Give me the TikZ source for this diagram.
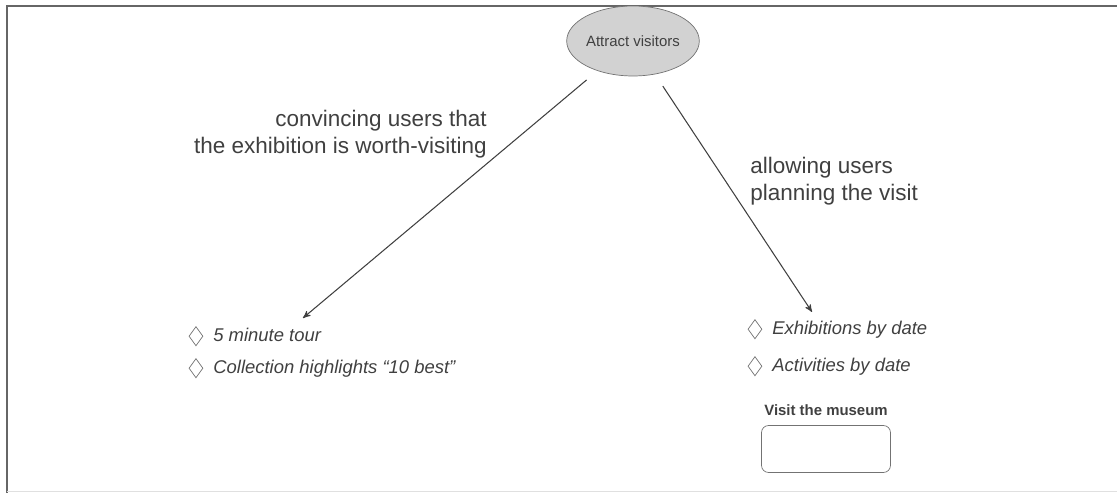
\documentclass[tikz,border=0pt]{standalone}
\usepackage{fontspec}
\setmainfont{Liberation Sans}
\usetikzlibrary{
  arrows,
  shapes.geometric,
  positioning
}
\definecolor{inkgrey}{HTML}{404040}
\definecolor{goalgrey}{HTML}{D2D2D2}

\begin{document}
\begin{tikzpicture}[
      x=0.02cm, y=-0.02cm,
      goal/.style={
         ellipse,
         minimum width=2.6cm,
         minimum height=1.4cm,
         inner sep=0pt,
         draw=black!55,
         fill=goalgrey,
         text=inkgrey,
         font=\fontsize{8.5}{10}\selectfont
      },
      reason/.style={
         inner sep=0pt,
         text=inkgrey,
         font=\fontsize{12.8}{15.3}\selectfont
      },
      item/.style={
         inner sep=0pt,
         anchor=base west,
         text=inkgrey,
         font=\fontsize{10.5}{12}\selectfont\itshape,
         text height=1.5ex,
         text depth=.25ex
      },
      bullet/.style={
         diamond,
         draw=black!55,
         thin,
         inner sep=0pt,
         minimum width=8pt,
         minimum height=11pt
      },
      frame/.style={draw=black!60, line width=1.2pt},
      >=stealth',
      tip/.style={->, line width=0.6pt, draw=inkgrey, shorten <=8pt}
    ]
    \useasboundingbox (0,0) rectangle (1117,493);
    % frame
    \draw[frame] (7,493) -- (7,6) -- (1117,6);
    \draw[black!12] (7,491) -- (1117,491);
    % goal and reasons
    \node (goal) [goal] at (633,41) {Attract visitors};
    \node (whyleft) [reason, align=right, anchor=north east] at (487,110)
       {convincing users that\\the exhibition is worth-visiting};
    \node (whyright) [reason, align=left, anchor=north west] at (750,157)
       {allowing users\\planning the visit};
    % items
    \node (tour) [item] at (213,342) {5 minute tour};
    \node (best) [item] at (213,374) {Collection highlights “10 best”};
    \node (exhib) [item] at (772,335) {Exhibitions by date};
    \node (activ) [item] at (772,372) {Activities by date};
    \node (btour) [bullet, left=5.5pt of tour] {};
    \node (bbest) [bullet, left=5.5pt of best] {};
    \node (bexhib) [bullet, left=5.5pt of exhib] {};
    \node (bactiv) [bullet, left=5.5pt of activ] {};
    % visit box
    \node (visitbox) [draw=black!55, rounded corners=4pt, minimum width=2.58cm,
       minimum height=0.94cm] at (826,449) {};
    \node (visit) [above=5pt of visitbox, inner sep=0pt, text=inkgrey,
       font=\fontsize{8.5}{10}\selectfont\bfseries] {Visit the museum};
    % arrows
    \coordinate (tourend) at (303,318);
    \coordinate (datesend) at (812,312);
    \draw[tip] (goal) -- (tourend);
    \draw[tip] (goal) -- (datesend);
\end{tikzpicture}
\end{document}
